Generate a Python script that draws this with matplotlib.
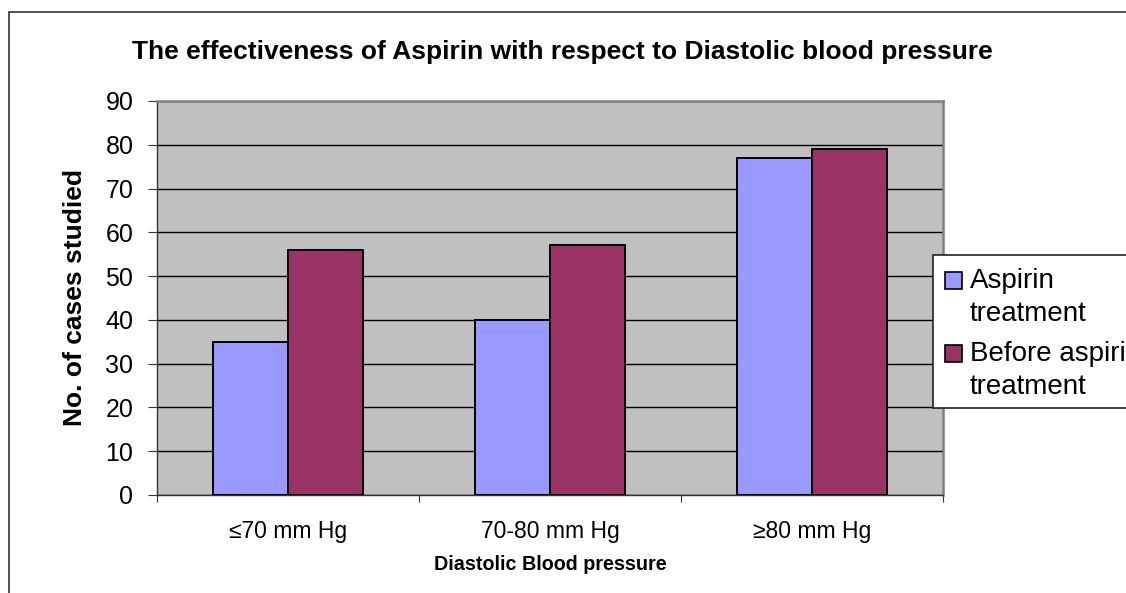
import matplotlib
matplotlib.use("Agg")
import matplotlib.pyplot as plt
import numpy as np
from matplotlib.patches import Rectangle

categories = ["≤70 mm Hg", "70-80 mm Hg", "≥80 mm Hg"]
series_names = ["Aspirin\ntreatment", "Before aspirin\ntreatment"]
aspirin = [35, 40, 77]
before = [56, 57, 79]
yticks = [0, 10, 20, 30, 40, 50, 60, 70, 80, 90]
colors = ['#9999ff', '#993366']

plt.rcParams['font.family'] = ['Liberation Sans', 'DejaVu Sans']

W, H = 1126, 593
fig = plt.figure(figsize=(W / 100, H / 100), dpi=100)
ax = fig.add_axes([157 / W, 1 - 495 / H, 786 / W, 394 / H])
ax.set_facecolor('#c0c0c0')

x = np.arange(len(categories))
bw = 1 / 3.5
ax.bar(x - bw / 2, aspirin, bw, color=colors[0], edgecolor='black', linewidth=1.4, zorder=3)
ax.bar(x + bw / 2, before, bw, color=colors[1], edgecolor='black', linewidth=1.4, zorder=3)

ax.set_xlim(-0.5, 2.5)
ax.set_ylim(0, 90)
ax.set_yticks(yticks)
ax.yaxis.grid(True, color='black', linewidth=1, zorder=1)
ax.set_axisbelow(True)
ax.tick_params(axis='y', labelsize=18, length=6.5, direction='out', pad=10.5, color='#333333')
ax.set_xticks([-0.5, 0.5, 1.5, 2.5])
ax.set_xticklabels([])
ax.tick_params(axis='x', length=5, direction='out', color='#333333')
ax.set_xticks(x, minor=True)
ax.set_xticklabels(categories, minor=True, fontsize=16.5)
ax.tick_params(axis='x', which='minor', length=0, pad=18)

for s in ['top', 'right']:
    ax.spines[s].set_color('#808080')
    ax.spines[s].set_linewidth(1.8)
for s in ['left', 'bottom']:
    ax.spines[s].set_color('#333333')
    ax.spines[s].set_linewidth(1)

ax.set_ylabel("No. of cases studied", fontsize=19, fontweight='bold')
ax.yaxis.set_label_coords((75 - 157) / 786, 0.5)
ax.yaxis.label.set_verticalalignment('center')

ax.set_xlabel("Diastolic Blood pressure", fontsize=14.2, fontweight='bold')
ax.xaxis.set_label_coords(0.5, -(565 - 495) / 394)
ax.xaxis.label.set_verticalalignment('center')

fig.text(562 / W, 1 - 52 / H, "The effectiveness of Aspirin with respect to Diastolic blood pressure",
         ha='center', va='center', fontsize=19, fontweight='bold')

# legend (manual, Excel-style: square aligned with first line)
fig.patches.append(Rectangle((933 / W, 1 - 408 / H), 0.2, (408 - 255) / H, transform=fig.transFigure,
                             facecolor='white', edgecolor='#222222', linewidth=1.2, zorder=5))
sq_tops = [272, 345]
baselines = [[288, 321], [361, 394]]
for i, name in enumerate(series_names):
    fig.patches.append(Rectangle((945 / W, 1 - (sq_tops[i] + 17) / H), 17 / W, 17 / H,
                                 transform=fig.transFigure, facecolor=colors[i],
                                 edgecolor='black', linewidth=1.2, zorder=6))
    for line, bl in zip(name.split('\n'), baselines[i]):
        fig.text(970 / W, 1 - bl / H, line, ha='left', va='baseline', fontsize=20, zorder=7)

fig.patches.append(Rectangle((9 / W, -0.1), 1.2, 1 - 12 / H + 0.1, transform=fig.transFigure,
                             fill=False, edgecolor='#333333', linewidth=1.2))

fig.savefig("out.png", dpi=100)
